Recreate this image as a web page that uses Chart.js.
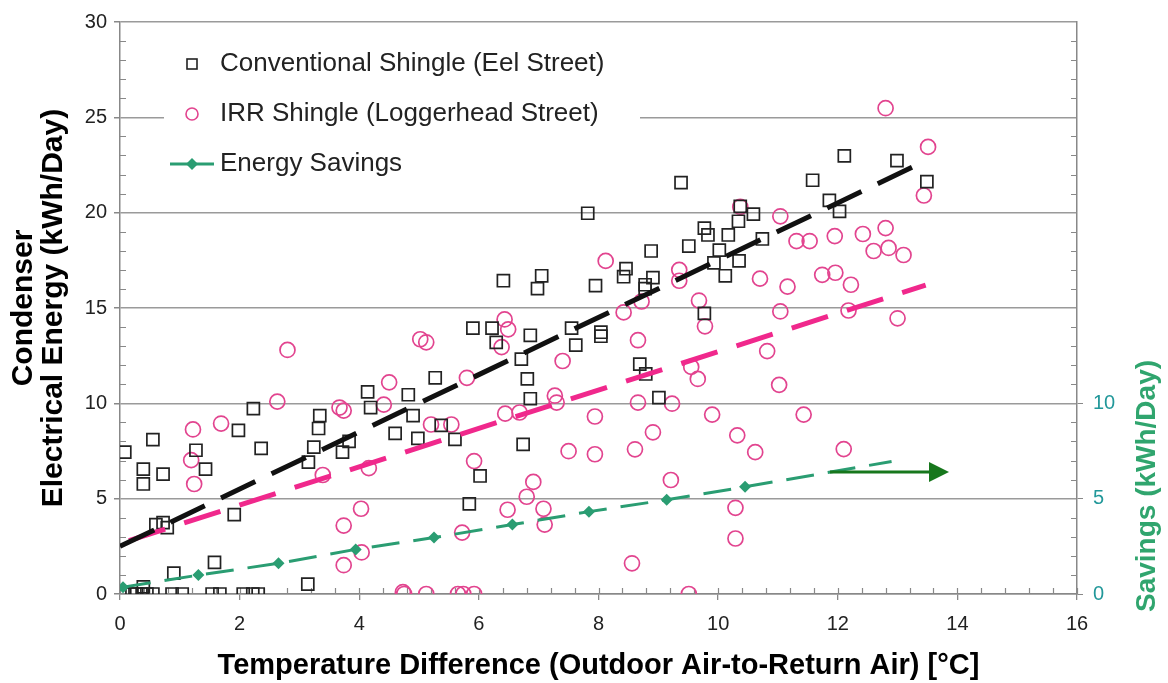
<!DOCTYPE html>
<html>
<head>
<meta charset="utf-8">
<script src="https://cdn.jsdelivr.net/npm/chart.js@4.4.1/dist/chart.umd.min.js"></script>
<style>
    html, body { margin: 0; padding: 0; background: #fff; }
</style>
</head>
<body>
<canvas id="myChart" width="1168" height="683"></canvas>
<script>
// Eel Street (conventional shingle): [temperature difference, kWh/day]
const conventional = [
    [0.05, 0], [0.2, 0], [0.28, 0], [0.37, 0], [0.45, 0], [0.55, 0], [0.87, 0], [1.04, 0],
    [1.54, 0], [1.67, 0], [2.06, 0], [2.22, 0], [2.31, 0], [0.39, 0.37],
    [0.08, 7.44], [0.39, 6.55], [0.39, 5.77], [0.55, 8.1], [0.72, 6.29], [0.6, 3.64],
    [0.72, 3.74], [0.79, 3.48], [0.9, 1.09], [1.27, 7.54], [1.43, 6.55], [1.58, 1.66],
    [1.91, 4.16], [1.98, 8.58], [2.23, 9.72], [2.36, 7.64], [3.14, 0.52], [3.15, 6.92],
    [3.24, 7.7], [3.32, 8.68], [3.34, 9.36], [3.72, 7.44], [3.83, 8.01],
    [4.14, 10.6], [4.19, 9.78], [4.82, 10.45], [4.9, 9.36], [4.6, 8.42], [4.98, 8.16],
    [5.37, 8.84], [5.6, 8.11], [6.02, 6.19], [5.84, 4.73], [6.74, 7.85], [6.86, 10.24],
    [9.01, 10.3], [7.82, 19.97], [6.41, 16.43], [7.05, 16.69], [6.98, 16.02], [7.95, 16.17],
    [5.9, 13.94], [6.22, 13.94], [6.29, 13.2], [6.86, 13.57], [7.55, 13.94], [7.62, 13.05],
    [6.71, 12.32], [6.81, 11.28], [5.27, 11.34],
    [9.38, 21.58], [11.58, 21.7], [11.86, 20.64], [12.03, 20.07], [10.37, 20.33],
    [10.59, 19.92], [10.34, 19.55], [9.77, 19.19], [9.83, 18.83], [10.17, 18.83],
    [10.74, 18.62], [9.51, 18.25], [10.02, 18.04], [8.88, 17.99], [10.35, 17.47],
    [9.93, 17.37], [10.12, 16.69], [8.46, 17.06], [8.42, 16.64], [8.91, 16.59],
    [8.78, 16.22], [8.78, 16.02], [9.77, 14.72], [8.04, 13.73], [8.04, 13.52],
    [8.69, 12.06], [8.79, 11.54], [12.11, 22.98], [12.99, 22.73], [13.49, 21.63],
];

// Loggerhead Street (IRR shingle)
const irr = [
    [4.73, 0.1], [4.75, 0], [5.12, 0], [5.65, 0], [5.74, 0], [5.92, 0], [9.51, 0],
    [2.63, 10.09], [1.22, 8.63], [1.69, 8.94], [1.19, 7.02], [1.24, 5.77], [3.39, 6.24],
    [3.67, 9.78], [3.74, 9.62], [3.74, 3.59], [3.74, 1.51], [4.03, 4.47], [4.04, 2.18],
    [4.5, 11.1], [4.41, 9.93], [4.16, 6.6], [5.2, 8.89], [5.54, 8.89], [5.92, 6.97],
    [6.44, 9.46], [6.68, 9.52], [7.27, 10.4], [7.3, 10.04], [6.91, 5.88], [6.8, 5.1],
    [6.48, 4.42], [7.08, 4.47], [7.1, 3.64], [5.72, 3.22], [7.5, 7.49], [7.94, 9.31],
    [7.94, 7.33], [8.66, 10.04], [9.23, 9.98], [8.91, 8.48], [8.61, 7.59], [9.9, 9.41],
    [10.32, 8.32], [10.62, 7.44], [11.43, 9.41], [9.21, 5.98], [10.29, 4.52], [10.29, 2.91],
    [8.56, 1.61], [11.02, 10.97], [12.1, 7.6],
    [11.04, 19.81], [11.31, 18.51], [11.53, 18.51], [11.95, 18.77], [11.74, 16.74],
    [11.96, 16.85], [8.12, 17.47], [9.35, 17.0], [9.35, 16.43], [10.7, 16.54], [11.16, 16.12],
    [11.04, 14.82], [9.68, 15.39], [9.78, 14.04], [8.72, 15.34], [8.42, 14.77], [8.66, 13.31],
    [10.82, 12.74], [9.55, 11.91], [9.66, 11.28], [10.37, 20.3],
    [12.8, 25.48], [13.51, 23.45], [13.44, 20.9], [12.42, 18.88], [12.8, 19.19], [12.6, 17.99],
    [12.85, 18.15], [13.1, 17.78], [12.22, 16.22], [12.18, 14.87], [13.0, 14.46],
    [6.43, 14.4], [6.49, 13.88], [6.38, 12.95], [5.02, 13.36], [5.12, 13.2], [5.8, 11.34],
    [7.4, 12.22], [2.8, 12.8],
];

// energy savings (right axis)
const savingsTemp = [0.05, 1.31, 2.65, 3.94, 5.25, 6.56, 7.84, 9.14, 10.45];
const savingsValue = [0.36, 0.99, 1.61, 2.34, 2.96, 3.64, 4.32, 4.94, 5.62];
const savingsTrendEnd = [12.9, 6.95];

// fitted lines
const conventionalTrend = [[0, 2.5], [13.49, 22.75]];
const irrTrend = [[0.15, 2.8], [13.47, 16.2]];

// arrow pointing to the savings axis
const arrowFrom = [11.87, 6.4];
const arrowTo = [13.86, 6.4];

const xTicks = [0, 2, 4, 6, 8, 10, 12, 14, 16];
const savingsTickMax = 10;

const FONT = "'Liberation Sans', Arial, sans-serif";
const toXY = (p) => ({ x: p[0], y: p[1] });

const savingsData = savingsTemp.map((t, i) => ({ x: t, y: savingsValue[i] }));
savingsData.push(toXY(savingsTrendEnd));

const legendItems = [
    { text: "Conventional Shingle (Eel Street)", kind: "square" },
    { text: "IRR Shingle (Loggerhead Street)", kind: "circle" },
    { text: "Energy Savings", kind: "savings" },
];

const extras = {
    id: "extras",
    beforeDatasetsDraw(chart) {
        const c = chart.ctx;
        const x = chart.scales.x, y = chart.scales.y;
        const bottom = y.getPixelForValue(0);
        c.save();
        // minor ticks, inside the plot
        c.strokeStyle = "#888";
        c.lineWidth = 1.2;
        c.beginPath();
        for (let v = 0; v <= 16.001; v += 0.4) {
            const px = Math.round(x.getPixelForValue(v)) + 0.5;
            c.moveTo(px, bottom);
            c.lineTo(px, bottom - 6);
        }
        for (let v = 1; v < 30; v++) {
            if (v % 5 === 0) continue;
            const py = Math.round(y.getPixelForValue(v)) + 0.5;
            c.moveTo(x.left, py);
            c.lineTo(x.left + 6, py);
            c.moveTo(x.right, py);
            c.lineTo(x.right - 6, py);
        }
        c.stroke();

        // legend on a white panel
        c.fillStyle = "#fff";
        c.fillRect(164, 38, 476, 150);
        c.font = "26px " + FONT;
        c.textBaseline = "middle";
        c.textAlign = "left";
        legendItems.forEach((item, i) => {
            const cy = 64 + i * 50;
            const mx = 192;
            if (item.kind === "square") {
                c.strokeStyle = "#222";
                c.lineWidth = 1.6;
                c.strokeRect(mx - 5, cy - 5, 10, 10);
            } else if (item.kind === "circle") {
                c.strokeStyle = "#e2448f";
                c.lineWidth = 1.6;
                c.beginPath();
                c.arc(mx, cy, 6, 0, Math.PI * 2);
                c.stroke();
            } else {
                c.strokeStyle = "#2a9d72";
                c.fillStyle = "#2a9d72";
                c.lineWidth = 3;
                c.beginPath();
                c.moveTo(mx - 22, cy);
                c.lineTo(mx + 22, cy);
                c.stroke();
                c.beginPath();
                c.moveTo(mx, cy - 6);
                c.lineTo(mx + 6, cy);
                c.lineTo(mx, cy + 6);
                c.lineTo(mx - 6, cy);
                c.closePath();
                c.fill();
            }
            c.fillStyle = "#222";
            c.fillText(item.text, 220, cy);
        });
        c.restore();
    },
    afterDraw(chart) {
        const c = chart.ctx;
        const x = chart.scales.x, y2 = chart.scales.y2;
        c.save();
        // arrow
        const x0 = x.getPixelForValue(arrowFrom[0]), y0 = y2.getPixelForValue(arrowFrom[1]);
        const x1 = x.getPixelForValue(arrowTo[0]), y1 = y2.getPixelForValue(arrowTo[1]);
        c.strokeStyle = "#17771c";
        c.fillStyle = "#17771c";
        c.lineWidth = 3;
        c.beginPath();
        c.moveTo(x0, y0);
        c.lineTo(x1 - 18, y1);
        c.stroke();
        c.beginPath();
        c.moveTo(x1, y1);
        c.lineTo(x1 - 20, y1 - 10);
        c.lineTo(x1 - 20, y1 + 10);
        c.closePath();
        c.fill();

        // right axis title, reading upwards
        c.translate(y2.right - 21, y2.getPixelForValue(0) + 18);
        c.rotate(-Math.PI / 2);
        c.font = "bold 28px " + FONT;
        c.fillStyle = "#30a56e";
        c.textAlign = "left";
        c.textBaseline = "middle";
        c.fillText("Savings (kWh/Day)", 0, 0);
        c.restore();
    },
};

const ctx = document.getElementById("myChart").getContext("2d");
const myChart = new Chart(ctx, {
    type: "scatter",
    data: {
        datasets: [
            {
                label: "Conventional Shingle (Eel Street)",
                data: conventional.map(toXY),
                pointStyle: "rect",
                pointRadius: 8.5,
                borderColor: "#222",
                backgroundColor: "rgba(0,0,0,0)",
                borderWidth: 1.7,
                order: 3,
            },
            {
                label: "IRR Shingle (Loggerhead Street)",
                data: irr.map(toXY),
                pointStyle: "circle",
                pointRadius: 7.5,
                borderColor: "#e2448f",
                backgroundColor: "rgba(0,0,0,0)",
                borderWidth: 1.7,
                order: 4,
            },
            {
                label: "Energy Savings",
                data: savingsData,
                yAxisID: "y2",
                showLine: true,
                borderColor: "#2a9d72",
                backgroundColor: "#2a9d72",
                borderWidth: 3,
                borderDash: [28, 14],
                pointStyle: "rectRot",
                pointRadius: (c) => (c.dataIndex < savingsTemp.length ? 6 : 0),
                pointBorderWidth: 0,
                order: 1,
            },
            {
                label: "Conventional trend",
                data: conventionalTrend.map(toXY),
                showLine: true,
                pointRadius: 0,
                borderColor: "#111",
                borderWidth: 5,
                borderDash: [38, 18],
                order: 2,
            },
            {
                label: "IRR trend",
                data: irrTrend.map(toXY),
                showLine: true,
                pointRadius: 0,
                borderColor: "#f0288c",
                borderWidth: 5,
                borderDash: [38, 20],
                order: 2,
            },
        ],
    },
    options: {
        responsive: false,
        animation: false,
        events: [],
        layout: { padding: { top: 17, left: 0, right: 0, bottom: 0 } },
        plugins: {
            legend: { display: false },
            tooltip: { enabled: false },
        },
        scales: {
            x: {
                type: "linear",
                min: 0,
                max: 16,
                afterBuildTicks: (s) => { s.ticks = xTicks.map((v) => ({ value: v })); },
                ticks: { font: { size: 20, family: FONT }, color: "#222", padding: 12 },
                grid: { drawOnChartArea: false, tickLength: 6, tickColor: "#888", lineWidth: 1.3 },
                border: { color: "#888", width: 1.5 },
                title: {
                    display: true,
                    text: "Temperature Difference (Outdoor Air-to-Return Air) [°C]",
                    color: "#000",
                    font: { size: 29, weight: "bold", family: FONT, lineHeight: 1.0 },
                    padding: { top: 0, bottom: 3 },
                },
                afterFit: (s) => { s.height = 89; },
            },
            y: {
                min: 0,
                max: 30,
                ticks: { stepSize: 5, font: { size: 20, family: FONT }, color: "#222", padding: 7 },
                grid: { color: "#9a9a9a", lineWidth: 1.5, tickLength: 6, tickColor: "#888" },
                border: { color: "#888", width: 1.5 },
                title: {
                    display: true,
                    text: ["Condenser", "Electrical Energy (kWh/Day)"],
                    color: "#000",
                    font: { size: 30, weight: "bold", family: FONT, lineHeight: 1.0 },
                    padding: { top: 9, bottom: 0 },
                },
                afterFit: (s) => { s.width = 120; },
            },
            y2: {
                position: "right",
                min: 0,
                max: 30,
                ticks: {
                    stepSize: 5,
                    font: { size: 20, family: FONT },
                    color: "#22989a",
                    padding: 10,
                    callback: (v) => (v <= savingsTickMax ? v : ""),
                },
                grid: {
                    drawOnChartArea: false,
                    tickLength: 6,
                    tickColor: (c) => (c.tick && c.tick.value <= savingsTickMax ? "#888" : "rgba(0,0,0,0)"),
                },
                border: { color: "#888", width: 1.5 },
                afterFit: (s) => { s.width = 91; },
            },
        },
    },
    plugins: [extras],
});
</script>
</body>
</html>
